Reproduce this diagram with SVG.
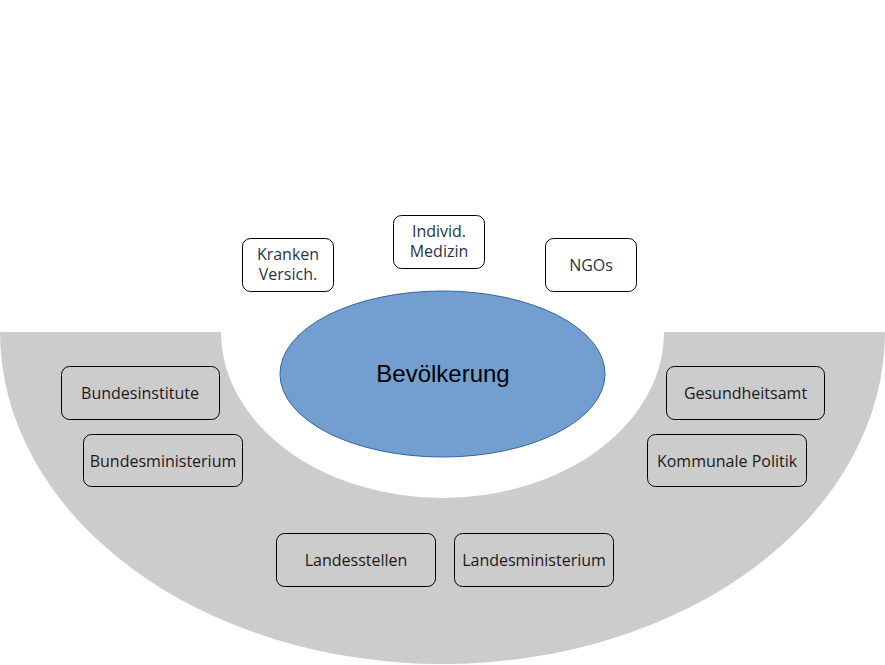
<svg xmlns="http://www.w3.org/2000/svg" width="885" height="665" viewBox="0 0 885 665">
<style>
.gbox{fill:#cccccc;stroke:#000;stroke-width:1}
.wbox{fill:#fff;stroke:#000;stroke-width:1}
.t{font-family:"Open Sans","Noto Sans",sans-serif;font-size:16px;fill:#1a1a1a;text-anchor:middle}
.tt{font-family:"Open Sans","Noto Sans",sans-serif;font-size:16px;fill:#2a3348;text-anchor:middle}
</style>
<rect width="885" height="665" fill="#fff"/>
<path id="band" d="M0,332 A442.5,332 0 0 0 885,332 L664,332 A221.5,166 0 0 1 221,332 Z" fill="#cccccc"/>
<g id="connectors"></g>
<g id="bevoelkerung">
<ellipse cx="442.5" cy="374" rx="162.5" ry="83" fill="#729fcf" stroke="#3465a4" stroke-width="1"/>
<text x="443" y="382" font-family="Liberation Sans,Arial,sans-serif" font-size="24" fill="#000" text-anchor="middle">Bevölkerung</text>
</g>
<g id="kranken">
<rect class="wbox" x="242.5" y="238.5" width="91" height="53" rx="8"/>
<text class="tt" x="288" y="260">Kranken</text>
<text class="tt" x="288" y="280">Versich.</text>
</g>
<g id="individ">
<rect class="wbox" x="393.5" y="215.5" width="91" height="53" rx="8"/>
<text class="tt" x="439" y="237">Individ.</text>
<text class="tt" x="439" y="257">Medizin</text>
</g>
<g id="ngos">
<rect class="wbox" x="545.5" y="238.5" width="91" height="53" rx="8"/>
<text class="tt" x="591" y="271">NGOs</text>
</g>
<g id="bundesinstitute">
<rect class="gbox" x="61.5" y="366.5" width="158" height="53" rx="8"/>
<text class="t" x="140" y="399">Bundesinstitute</text>
</g>
<g id="bundesministerium">
<rect class="gbox" x="83.5" y="434.5" width="159" height="52" rx="8"/>
<text class="t" x="163" y="467">Bundesministerium</text>
</g>
<g id="gesundheitsamt">
<rect class="gbox" x="666.5" y="366.5" width="158" height="53" rx="8"/>
<text class="t" x="745.5" y="399">Gesundheitsamt</text>
</g>
<g id="kommunale">
<rect class="gbox" x="647.5" y="434.5" width="159" height="52" rx="8"/>
<text class="t" x="727" y="467">Kommunale Politik</text>
</g>
<g id="landesstellen">
<rect class="gbox" x="276.5" y="533.5" width="159" height="53" rx="8"/>
<text class="t" x="356" y="566">Landesstellen</text>
</g>
<g id="landesministerium">
<rect class="gbox" x="454.5" y="533.5" width="159" height="53" rx="8"/>
<text class="t" x="534" y="566">Landesministerium</text>
</g>
</svg>
